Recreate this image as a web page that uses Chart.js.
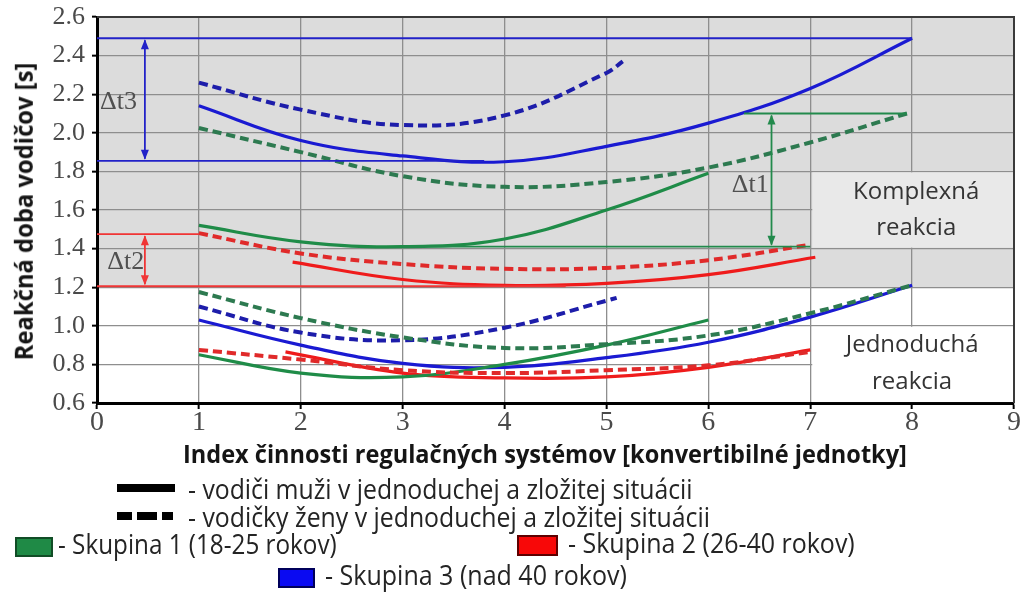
<!DOCTYPE html>
<html lang="sk">
<head>
<meta charset="utf-8">
<title>Reakčná doba vodičov</title>
<script src="https://cdn.jsdelivr.net/npm/chart.js@4.4.1/dist/chart.umd.min.js"></script>
<style>
  html, body { margin: 0; padding: 0; background: #fff; }
  #page { position: relative; width: 1022px; height: 592px; overflow: hidden; }
  #chart { position: absolute; left: 0; top: 0; }
  .lbl { position: absolute; white-space: nowrap; font-family: "Open Sans", sans-serif; line-height: 1; transform-origin: 0 0; }
  .ttl { font-weight: 700; font-size: 25px; color: #151515; }
  .leg { font-size: 28px; color: #242424; }
  .sw { position: absolute; box-sizing: border-box; }
</style>
</head>
<body>
<div id="page">
  <canvas id="chart" width="1022" height="592"></canvas>

  <div class="lbl ttl" id="ytitle" data-w="298">Reakčná doba vodičov [s]</div>
  <div class="lbl ttl" data-w="724" style="left:183px;top:441px">Index činnosti regulačných systémov [konvertibilné jednotky]</div>

  <div class="sw" style="left:117px;top:484px;width:58px;height:8px;background:#000"></div>
  <div class="lbl leg" data-w="505" style="left:188px;top:474px">- vodiči muži v jednoduchej a zložitej situácii</div>

  <div class="sw" style="left:117px;top:512px;width:15px;height:8px;background:#000"></div>
  <div class="sw" style="left:137px;top:512px;width:20px;height:8px;background:#000"></div>
  <div class="sw" style="left:162px;top:512px;width:11px;height:8px;background:#000"></div>
  <div class="lbl leg" data-w="522" style="left:188px;top:502px">- vodičky ženy v jednoduchej a zložitej situácii</div>

  <div class="sw" style="left:15px;top:537px;width:38px;height:20px;background:#1f8a46;border:2px solid #114d26"></div>
  <div class="lbl leg" data-w="279" style="left:58px;top:529px">- Skupina 1 (18-25 rokov)</div>

  <div class="sw" style="left:517px;top:535px;width:41px;height:21px;background:#f80808;border:2px solid #5e0000"></div>
  <div class="lbl leg" data-w="287" style="left:568px;top:528px">- Skupina 2 (26-40 rokov)</div>

  <div class="sw" style="left:278px;top:568px;width:37px;height:20px;background:#0a0af2;border:2px solid #00005a"></div>
  <div class="lbl leg" data-w="302" style="left:325px;top:560px">- Skupina 3 (nad 40 rokov)</div>
</div>

<script>
// ---- x: index of regulatory system activity, y: reaction time [s] ----

// Complex reaction, Skupina 1 (18-25)
const g1ComplexMenX   = [1, 2, 3, 4, 5, 6];
const g1ComplexMenY   = [1.52, 1.435, 1.41, 1.45, 1.60, 1.79];
const g1ComplexWomenX = [1, 2, 3, 4, 5, 6, 7, 7.95];
const g1ComplexWomenY = [2.025, 1.90, 1.775, 1.72, 1.745, 1.82, 1.95, 2.10];
// Complex reaction, Skupina 2 (26-40)
const g2ComplexMenX   = [1.92, 3, 4, 5, 6, 7.05];
const g2ComplexMenY   = [1.33, 1.24, 1.21, 1.22, 1.265, 1.355];
const g2ComplexWomenX = [1, 2, 3, 4, 5, 6, 7];
const g2ComplexWomenY = [1.48, 1.375, 1.32, 1.295, 1.30, 1.34, 1.42];
// Complex reaction, Skupina 3 (over 40)
const g3ComplexMenX   = [1, 2, 3, 4, 5, 6, 7, 8];
const g3ComplexMenY   = [2.14, 1.96, 1.88, 1.85, 1.93, 2.05, 2.23, 2.49];
const g3ComplexWomenX = [1, 2, 3, 4, 5, 5.16];
const g3ComplexWomenY = [2.26, 2.12, 2.04, 2.09, 2.31, 2.37];

// Simple reaction, Skupina 1
const g1SimpleMenX   = [1, 2, 3, 4, 5, 6];
const g1SimpleMenY   = [0.85, 0.755, 0.735, 0.80, 0.90, 1.03];
const g1SimpleWomenX = [1, 2, 3, 4, 5, 6, 7, 8];
const g1SimpleWomenY = [1.175, 1.04, 0.94, 0.885, 0.905, 0.95, 1.065, 1.21];
// Simple reaction, Skupina 2
const g2SimpleMenX   = [1.85, 3, 4, 5, 6, 7];
const g2SimpleMenY   = [0.865, 0.755, 0.73, 0.735, 0.785, 0.875];
const g2SimpleWomenX = [1, 2, 3, 4, 5, 6, 7];
const g2SimpleWomenY = [0.875, 0.825, 0.77, 0.755, 0.77, 0.795, 0.865];
// Simple reaction, Skupina 3
const g3SimpleMenX   = [1, 2, 3, 4, 5, 6, 7, 8];
const g3SimpleMenY   = [1.03, 0.90, 0.805, 0.785, 0.835, 0.915, 1.045, 1.21];
const g3SimpleWomenX = [1, 2, 3, 4, 5, 5.1];
const g3SimpleWomenY = [1.10, 0.965, 0.925, 0.99, 1.13, 1.145];

// Δt reference levels [upper, lower], their horizontal extents and arrow positions
const dt3Levels = [2.49, 1.855];
const dt3Spans  = [[0, 8], [0, 3.8]];
const dt3ArrowX = 0.47;
const dt2Levels = [1.475, 1.205];
const dt2Spans  = [[0, 1], [0, 4.6]];
const dt2ArrowX = 0.47;
const dt1Levels = [2.10, 1.41];
const dt1Spans  = [[6.35, 7.95], [3.0, 7.0]];
const dt1ArrowX = 6.62;

// axis ranges and tick labels
const xTicks = [0, 1, 2, 3, 4, 5, 6, 7, 8, 9];
const yTicks = ['0.6', '0.8', '1.0', '1.2', '1.4', '1.6', '1.8', '2.0', '2.2', '2.4', '2.6'];
const complexBand = [1.2, 2.6];

const BLUE = '#1a1ad2', BLUE_D = '#1d1daa';
const GREEN = '#1f8c48', GREEN_D = '#2d7a50';
const RED = '#ef1b1b', RED_D = '#e02a2a';

const pts = (xs, ys) => xs.map((x, i) => ({ x, y: ys[i] }));

function curve(xs, ys, color, dashed) {
  return {
    data: pts(xs, ys),
    borderColor: color,
    borderWidth: dashed ? 4 : 3.2,
    borderDash: dashed ? [9, 5] : [],
    borderCapStyle: 'butt',
    tension: 0.4,
    pointRadius: 0,
    fill: false
  };
}

function level(y, span, color) {
  return {
    data: [{ x: span[0], y }, { x: span[1], y }],
    borderColor: color,
    borderWidth: 1.8,
    pointRadius: 0,
    fill: false,
    tension: 0
  };
}

const datasets = [
  level(dt3Levels[0], dt3Spans[0], '#2222c8'),
  level(dt3Levels[1], dt3Spans[1], '#2222c8'),
  level(dt2Levels[0], dt2Spans[0], '#f03535'),
  level(dt2Levels[1], dt2Spans[1], '#f03535'),
  level(dt1Levels[0], dt1Spans[0], '#228a4c'),
  level(dt1Levels[1], dt1Spans[1], '#228a4c'),

  curve(g1ComplexWomenX, g1ComplexWomenY, GREEN_D, true),
  curve(g3ComplexWomenX, g3ComplexWomenY, BLUE_D, true),
  curve(g2ComplexWomenX, g2ComplexWomenY, RED_D, true),
  curve(g1ComplexMenX, g1ComplexMenY, GREEN, false),
  curve(g2ComplexMenX, g2ComplexMenY, RED, false),
  curve(g3ComplexMenX, g3ComplexMenY, BLUE, false),

  curve(g1SimpleWomenX, g1SimpleWomenY, GREEN_D, true),
  curve(g3SimpleWomenX, g3SimpleWomenY, BLUE_D, true),
  curve(g2SimpleWomenX, g2SimpleWomenY, RED_D, true),
  curve(g1SimpleMenX, g1SimpleMenY, GREEN, false),
  curve(g3SimpleMenX, g3SimpleMenY, BLUE, false),
  curve(g2SimpleMenX, g2SimpleMenY, RED, false)
];

function arrowHead(ctx, x, y, dir) {
  // dir = -1: tip points up, +1: tip points down
  ctx.beginPath();
  ctx.moveTo(x, y);
  ctx.lineTo(x - 4, y - dir * 10);
  ctx.lineTo(x + 4, y - dir * 10);
  ctx.closePath();
  ctx.fill();
}

function dtArrow(ctx, xs, ys, ax, levels, color) {
  const px = xs.getPixelForValue(ax);
  const top = ys.getPixelForValue(levels[0]);
  const bot = ys.getPixelForValue(levels[1]);
  ctx.strokeStyle = color;
  ctx.fillStyle = color;
  ctx.lineWidth = 1.8;
  ctx.beginPath();
  ctx.moveTo(px, top + 2);
  ctx.lineTo(px, bot - 2);
  ctx.stroke();
  arrowHead(ctx, px, top + 1, -1);
  arrowHead(ctx, px, bot - 1, 1);
}

const decor = {
  id: 'decor',
  beforeDraw(chart) {
    const { ctx, chartArea: a, scales: { y } } = chart;
    ctx.save();
    ctx.fillStyle = '#ffffff';
    ctx.fillRect(a.left, a.top, a.width, a.height);
    const t = y.getPixelForValue(complexBand[1]);
    const b = y.getPixelForValue(complexBand[0]);
    ctx.fillStyle = '#dcdcdc';
    ctx.fillRect(a.left, t, a.width, b - t);
    ctx.restore();
  },
  beforeDatasetsDraw(chart) {
    const { ctx, scales: { x, y } } = chart;
    ctx.save();
    // caption panels on the right
    const box = (x0, x1, y0, y1, fill) => {
      const l = x.getPixelForValue(x0), r = x.getPixelForValue(x1);
      const t = y.getPixelForValue(y1), b = y.getPixelForValue(y0);
      ctx.fillStyle = fill;
      ctx.fillRect(l, t, r - l, b - t);
    };
    box(7.02, 8.99, 1.405, 1.795, '#e9e9e9');
    box(7.02, 8.99, 0.605, 0.995, '#ffffff');

    ctx.fillStyle = '#343434';
    ctx.font = '24px "Open Sans", sans-serif';
    ctx.textAlign = 'center';
    ctx.textBaseline = 'middle';
    ctx.fillText('Komplexná', x.getPixelForValue(8.04), y.getPixelForValue(1.695));
    ctx.fillText('reakcia', x.getPixelForValue(8.04), y.getPixelForValue(1.505));
    ctx.fillText('Jednoduchá', x.getPixelForValue(8.0), y.getPixelForValue(0.9));
    ctx.fillText('reakcia', x.getPixelForValue(8.0), y.getPixelForValue(0.71));
    ctx.restore();
  },
  afterDatasetsDraw(chart) {
    const { ctx, chartArea: a, scales: { x, y } } = chart;
    ctx.save();
    dtArrow(ctx, x, y, dt3ArrowX, dt3Levels, '#2222c8');
    dtArrow(ctx, x, y, dt2ArrowX, dt2Levels, '#f03535');
    dtArrow(ctx, x, y, dt1ArrowX, dt1Levels, '#228a4c');

    ctx.fillStyle = '#505050';
    ctx.font = '26px "Liberation Serif", serif';
    ctx.textAlign = 'left';
    ctx.textBaseline = 'middle';
    ctx.fillText('Δt3', x.getPixelForValue(0.03), y.getPixelForValue(2.16));
    ctx.fillText('Δt2', x.getPixelForValue(0.1), y.getPixelForValue(1.33));
    ctx.fillText('Δt1', x.getPixelForValue(6.23), y.getPixelForValue(1.73));

    // top and right frame
    ctx.strokeStyle = '#3a3a3a';
    ctx.lineWidth = 2;
    ctx.beginPath();
    ctx.moveTo(a.left, a.top);
    ctx.lineTo(a.right, a.top);
    ctx.lineTo(a.right, a.bottom);
    ctx.stroke();
    ctx.restore();
  }
};

new Chart(document.getElementById('chart'), {
  type: 'line',
  data: { datasets },
  options: {
    responsive: false,
    animation: false,
    devicePixelRatio: 1,
    layout: { padding: { left: 0, right: 8, top: 17, bottom: 139 } },
    plugins: { legend: { display: false }, tooltip: { enabled: false } },
    scales: {
      x: {
        type: 'linear',
        min: xTicks[0],
        max: xTicks[xTicks.length - 1],
        afterBuildTicks(s) { s.ticks = xTicks.map(v => ({ value: v })); },
        afterFit(s) { s.height = 50; },
        ticks: {
          callback: v => String(v),
          color: '#4a4a4a',
          font: { family: '"Liberation Serif", serif', size: 28, lineHeight: 1 },
          padding: 0,
          maxRotation: 0
        },
        grid: { color: '#8e8e8e', lineWidth: 1.3, tickLength: 6, tickColor: '#000', tickWidth: 2 },
        border: { color: '#000', width: 3 }
      },
      y: {
        min: parseFloat(yTicks[0]),
        max: parseFloat(yTicks[yTicks.length - 1]),
        afterBuildTicks(s) { s.ticks = yTicks.map(v => ({ value: parseFloat(v) })); },
        afterFit(s) { s.width = 97; s.paddingTop = 0; s.paddingBottom = 0; },
        ticks: {
          callback: (v, i) => yTicks[i],
          color: '#4a4a4a',
          font: { family: '"Liberation Serif", serif', size: 26, lineHeight: 1 },
          padding: 7
        },
        grid: { color: '#8e8e8e', lineWidth: 1.3, tickLength: 5, tickColor: '#000', tickWidth: 2 },
        border: { color: '#000', width: 3 }
      }
    }
  },
  plugins: [decor]
});

// narrow the caption texts to their set widths
document.querySelectorAll('.lbl[data-w]').forEach(el => {
  const k = (+el.dataset.w) / el.offsetWidth;
  if (el.id === 'ytitle') {
    const w = el.offsetWidth, h = el.offsetHeight;
    el.style.transformOrigin = '50% 50%';
    el.style.left = (23.3 - w / 2) + 'px';
    el.style.top = (211 - h / 2) + 'px';
    el.style.transform = `rotate(-90deg) scaleX(${k})`;
  } else {
    el.style.transform = `scaleX(${k})`;
  }
});
</script>
</body>
</html>
